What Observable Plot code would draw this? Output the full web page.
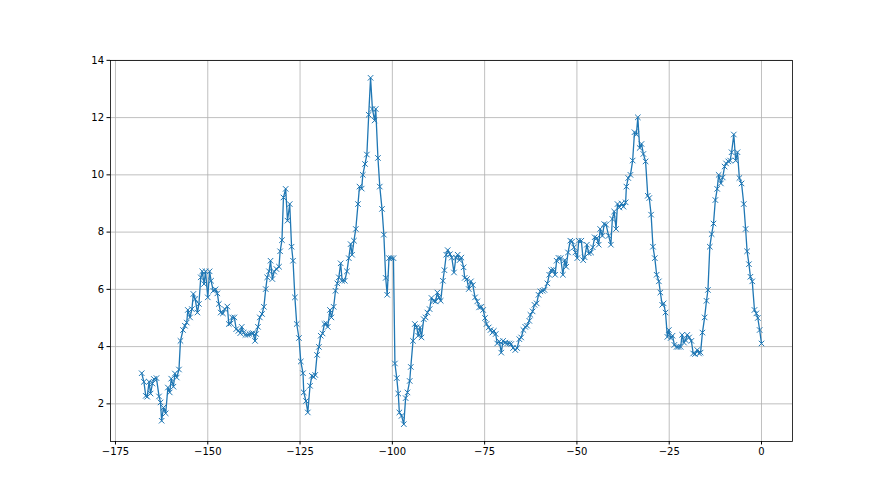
<!DOCTYPE html>
<html>
<head>
<meta charset="utf-8">
<script src="https://cdn.jsdelivr.net/npm/d3@7"></script>
<script src="https://cdn.jsdelivr.net/npm/@observablehq/plot@0.6"></script>
<style>
  html, body { margin: 0; padding: 0; background: #fff; }
  #chart svg { display: block; }
</style>
</head>
<body>
<div id="chart"></div>
<script>
const xs = [
-167.9,-167.3,-166.8,-166.4,-165.9,-165.5,-165.0,-164.6,-163.9,-163.2,-162.8,-162.5,-162.0,-161.4,-160.8,-160.3,-159.9,-159.3,-158.9,-158.4,
-157.8,-157.4,-156.7,-156.2,-155.7,-155.4,-154.8,-154.3,-153.9,-153.4,-152.8,-152.4,-151.9,-151.5,-151.0,-150.6,-150.0,-149.5,-149.1,-148.5,
-147.9,-147.4,-147.0,-146.5,-145.9,-145.4,-144.7,-144.3,-143.8,-143.4,-142.8,-142.3,-141.7,-141.2,-140.8,-140.3,-139.8,-139.2,-138.7,-138.1,
-137.7,-137.2,-136.9,-136.4,-135.9,-135.3,-134.8,-134.3,-133.9,-133.4,-133.0,-132.5,-132.0,-131.4,-130.7,-130.4,-129.9,-129.5,-128.9,-128.4,
-127.8,-127.3,-126.9,-126.4,-125.9,-125.3,-124.8,-124.2,-124.0,-123.4,-122.9,-122.3,-121.8,-121.3,-120.9,-120.4,-119.9,-119.4,-118.9,-118.4,
-117.9,-117.5,-116.9,-116.5,-115.9,-115.4,-114.9,-114.5,-114.0,-113.6,-112.9,-112.3,-111.8,-111.3,-110.9,-110.4,-109.9,-109.3,-108.9,-108.3,
-108.0,-107.4,-106.9,-106.4,-105.9,-105.4,-104.8,-104.5,-103.9,-103.4,-102.8,-102.3,-101.8,-101.4,-100.9,-100.3,-99.7,-99.3,-98.8,-98.4,
-98.1,-97.5,-96.9,-96.4,-95.9,-95.3,-95.0,-94.4,-93.9,-93.4,-93.0,-92.5,-92.1,-91.5,-91.0,-90.5,-89.9,-89.4,-88.8,-88.3,
-87.8,-87.4,-86.9,-86.3,-85.9,-85.4,-85.0,-84.4,-83.9,-83.3,-82.8,-82.3,-81.8,-81.3,-80.7,-80.4,-79.8,-79.3,-78.7,-78.2,
-77.6,-77.0,-76.5,-75.9,-75.4,-74.9,-74.5,-73.9,-73.4,-72.9,-72.5,-72.0,-71.6,-71.0,-70.5,-70.0,-69.4,-68.9,-68.3,-67.8,
-67.3,-66.7,-66.2,-65.6,-65.1,-64.5,-64.0,-63.5,-62.9,-62.6,-62.0,-61.5,-60.9,-60.4,-59.9,-59.3,-58.8,-58.0,-57.5,-57.0,
-56.4,-55.9,-55.5,-55.0,-54.4,-53.8,-53.3,-52.9,-52.4,-51.8,-51.3,-50.8,-50.4,-49.9,-49.5,-48.8,-48.3,-47.9,-47.3,-46.8,
-46.2,-45.7,-45.2,-44.6,-44.1,-43.7,-43.1,-42.6,-42.1,-41.4,-40.8,-40.4,-39.9,-39.4,-39.0,-38.5,-37.9,-37.4,-36.8,-36.6,
-36.1,-35.5,-34.9,-34.4,-33.9,-33.5,-33.0,-32.5,-32.0,-31.4,-30.8,-30.4,-29.9,-29.4,-28.9,-28.4,-27.8,-27.4,-26.9,-26.5,
-26.0,-25.5,-25.1,-24.6,-24.1,-23.6,-23.0,-22.5,-21.9,-21.5,-21.0,-20.6,-20.1,-19.6,-19.0,-18.5,-18.0,-17.4,-16.9,-16.5,
-16.0,-15.4,-14.9,-14.5,-14.0,-13.5,-13.0,-12.5,-12.0,-11.6,-11.0,-10.5,-10.0,-9.6,-9.0,-8.5,-8.1,-7.5,-7.0,-6.5,
-6.0,-5.4,-4.8,-4.3,-3.9,-3.4,-3.0,-2.5,-1.9,-1.4,-1.0,-0.5,0.0
];
const ys = [
3.07,2.77,2.28,2.25,2.77,2.36,2.71,2.87,2.90,2.26,2.05,1.41,1.87,1.67,2.57,2.40,2.88,2.60,3.06,2.92,
3.20,4.20,4.58,4.73,4.84,5.28,5.02,5.31,5.84,5.66,5.19,5.49,6.42,6.63,6.19,6.63,5.72,6.63,6.30,5.95,
6.00,5.86,5.49,5.19,5.16,5.31,5.40,4.79,4.81,5.02,5.02,4.61,4.55,4.47,4.69,4.49,4.41,4.41,4.44,4.46,
4.47,4.20,4.44,4.69,5.02,5.14,5.39,6.01,6.42,6.63,7.00,6.36,6.62,6.71,6.79,7.33,7.72,9.21,9.51,8.40,
8.98,7.49,7.00,5.72,4.79,4.30,3.48,3.07,2.40,2.10,1.70,2.63,2.98,2.94,3.01,3.71,3.99,4.38,4.46,4.79,
4.81,4.69,5.28,5.02,5.39,5.95,6.21,6.42,6.91,6.30,6.30,6.63,7.09,7.58,7.21,7.70,8.11,8.98,9.59,9.52,
10.00,10.38,10.71,12.10,13.39,12.30,11.90,12.30,10.59,9.59,8.81,7.91,6.40,5.81,7.09,7.09,7.09,3.41,2.90,2.36,
1.70,1.58,1.29,2.20,2.40,2.80,3.29,4.20,4.79,4.67,4.38,4.67,4.32,4.96,5.02,5.19,5.31,5.70,5.60,5.58,
5.89,5.72,5.60,6.30,6.67,7.21,7.37,7.23,7.11,6.59,7.11,7.21,7.02,7.11,6.77,6.40,6.36,6.01,6.28,6.15,
5.72,5.58,5.37,5.39,5.28,5.00,4.79,4.67,4.58,4.49,4.55,4.44,4.11,4.18,3.79,4.20,4.14,4.11,4.11,4.09,
3.95,3.88,3.95,4.26,4.32,4.58,4.69,4.73,4.90,5.11,5.23,5.46,5.51,5.81,5.93,5.95,5.98,6.21,6.51,6.67,
6.69,6.51,7.00,7.10,7.09,6.51,7.02,6.79,7.29,7.70,7.67,7.47,7.29,7.09,7.70,7.70,7.02,7.12,7.56,7.26,
7.29,7.47,7.82,7.79,7.56,8.11,7.87,8.28,8.26,7.87,7.56,8.46,8.72,8.11,8.98,8.86,9.00,8.89,9.04,9.59,
9.89,10.00,10.50,11.49,11.41,12.01,10.94,11.08,10.73,10.47,9.27,9.19,8.61,7.49,7.09,6.51,6.28,5.89,5.46,5.51,
5.19,4.34,4.58,4.30,4.38,4.06,3.99,3.99,3.99,4.41,4.14,4.23,4.41,4.32,4.20,3.76,3.74,3.88,3.76,3.79,
4.49,5.02,5.60,5.98,7.49,7.93,8.30,9.12,9.51,10.00,9.70,9.91,10.29,10.40,10.47,10.50,10.79,11.41,10.50,10.79,
9.89,9.70,8.98,8.11,7.33,6.88,6.44,6.28,5.28,5.16,5.00,4.58,4.11
];
const xTicks = [-175, -150, -125, -100, -75, -50, -25, 0];
const yTicks = [2, 4, 6, 8, 10, 12, 14];

const data = xs.map((x, i) => ({x, y: ys[i]}));
const fmt = d => String(d).replace("-", "\u2212");
const blue = "#1f77b4";

const chart = Plot.plot({
  width: 880,
  height: 495,
  marginLeft: 110,
  marginRight: 88,
  marginTop: 60,
  marginBottom: 54,
  style: {fontFamily: "DejaVu Sans", fontSize: "10px", color: "#000", background: "#fff"},
  x: {domain: [-176.35, 8.4], ticks: xTicks, tickFormat: fmt, label: null, tickSize: 3.5, tickPadding: 3},
  y: {domain: [0.685, 13.995], ticks: yTicks, tickFormat: fmt, label: null, tickSize: 3.5, tickPadding: 3},
  marks: [
    Plot.gridX(xTicks, {stroke: "#b0b0b0", strokeOpacity: 1, strokeWidth: 0.8}),
    Plot.gridY(yTicks, {stroke: "#b0b0b0", strokeOpacity: 1, strokeWidth: 0.8}),
    Plot.line(data, {x: "x", y: "y", stroke: blue, strokeWidth: 1.3}),
    Plot.dot(data, {x: "x", y: "y", symbol: "times", r: 2.6, stroke: blue, strokeWidth: 1}),
    Plot.frame({stroke: "#000", strokeWidth: 0.8}),
    Plot.axisX({ticks: xTicks, tickFormat: fmt, tickSize: 3.5, tickPadding: 3, label: null}),
    Plot.axisY({ticks: yTicks, tickFormat: fmt, tickSize: 3.5, tickPadding: 3, label: null})
  ]
});
document.getElementById("chart").appendChild(chart);
</script>
</body>
</html>
